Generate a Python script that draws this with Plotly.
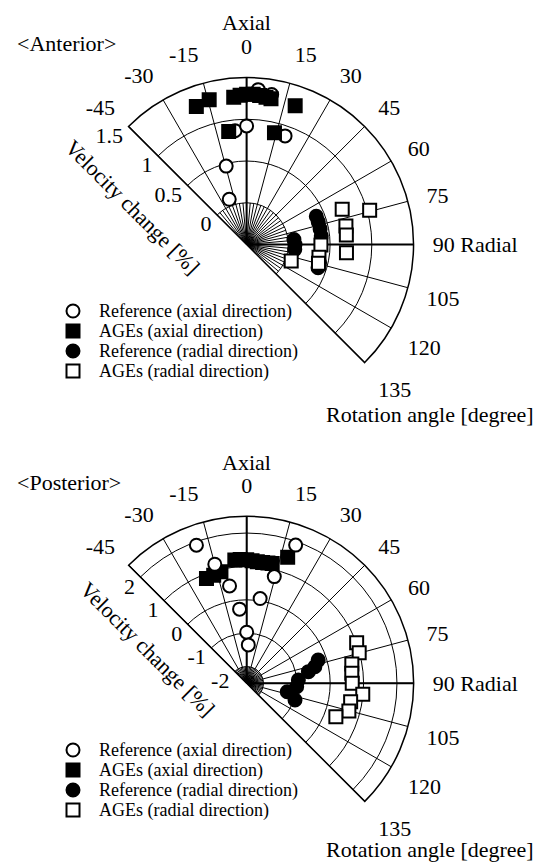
import plotly.graph_objects as go

W, H = 552, 863
FONT = "Liberation Serif"

# ---------------- data (angle in degrees, velocity change in %) ----------------
ant_ref_ax_theta = [-21, -14.6, -5.8, 0, 4.3, 9.5, 19.5]
ant_ref_ax_r = [0.08, 0.47, 0.87, 0.92, 1.36, 1.32, 0.88]

ant_age_ax_theta = [-20, -14.5, -9, -5, -2.5, 0, 2.5, 5, 7.5, 9.5, 14, 19.3]
ant_age_ax_r = [1.26, 1.29, 0.87, 1.27, 1.29, 1.3, 1.3, 1.29, 1.28, 1.27, 0.88, 1.26]

ant_ref_rad_theta = [68, 72.5, 78, 83.5, 84, 90, 96, 104, 108]
ant_ref_rad_r = [0.4, 0.4, 0.4, 0.4, 0.07, 0.08, 0.08, 0.4, 0.4]

ant_age_rad_theta = [69.8, 74.4, 79.4, 84.6, 90.4, 94.7, 100, 104.7, 110.4]
ant_age_rad_r = [0.72, 1.03, 0.71, 0.70, 0.39, 0.70, 0.38, 0.39, 0.07]

post_ref_ax_theta = [-20, -15, -10, -5.5, 0, 2.4, 9, 14.5, 19.5]
post_ref_ax_r = [1.9, 1.19, 0.46, -0.27, -0.97, -1.35, 0.07, 0.8, 1.89]

post_age_ax_theta = [-21, -17, -13, -5.5, -3, 0, 2.5, 5, 7.5, 10, 12, 18]
post_age_ax_r = [0.86, 0.88, 0.93, 1.21, 1.21, 1.2, 1.17, 1.15, 1.15, 1.16, 1.17, 1.47]

post_ref_rad_theta = [72, 76.3, 79.3, 86.3, 93.9, 101.7, 109]
post_ref_rad_r = [-0.25, -0.4, -0.62, -0.95, -1.0, -1.26, -0.97]

post_age_rad_theta = [69.7, 74.8, 79.6, 84.6, 90, 95.4, 100, 105.2, 110.5]
post_age_rad_r = [1.01, 0.99, 0.70, 0.66, 0.66, 0.99, 0.66, 0.67, 0.35]

angle_ticks = [-45, -30, -15, 0, 15, 30, 45, 60, 75, 90, 105, 120, 135]
angle_text = ["-45", "-30", "-15", "0", "15", "30", "45", "60", "75", "90 Radial", "105", "120", "135"]

ant_range = [-0.5, 1.5]
ant_ticks = [0, 0.5, 1, 1.5]
post_range = [-2.5, 2.5]
post_ticks = [-2, -1, 0, 1, 2]

series_names = ["Reference (axial direction)", "AGEs (axial direction)",
                "Reference (radial direction)", "AGEs (radial direction)"]

STYLES = [
    dict(symbol="circle", color="white"),
    dict(symbol="square", color="black"),
    dict(symbol="circle", color="black"),
    dict(symbol="square", color="white"),
]
MSIZE = 13
RADIAL_LABEL_ANGLE = -45  # radial tick labels sit along the -45 degree edge

# ---------------- figure ----------------
fig = go.Figure()


def add_panel(polar, data, rng, ticks, order):
    # decorative fine spokes inside the first ring
    fine = [a for a in range(-40, 135, 5) if a % 15 != 0]
    for a in fine:
        fig.add_trace(go.Scatterpolar(r=[rng[0], ticks[0]], theta=[a, a], mode="lines",
                                      line=dict(color="black", width=1), showlegend=False,
                                      hoverinfo="skip", subplot=polar))
    # bold main axes (Axial 0 and Radial 90)
    for a in [0, 90]:
        fig.add_trace(go.Scatterpolar(r=[rng[0], rng[1]], theta=[a, a], mode="lines",
                                      line=dict(color="black", width=2), showlegend=False,
                                      hoverinfo="skip", subplot=polar))
    for i in order:
        th, rr = data[i]
        st = STYLES[i]
        fig.add_trace(go.Scatterpolar(
            r=rr, theta=th, mode="markers", name=series_names[i], showlegend=False,
            marker=dict(symbol=st["symbol"], size=MSIZE, color=st["color"],
                        line=dict(color="black", width=2)),
            subplot=polar))
    # radial tick labels (horizontal, beside the -45 degree edge)
    fig.add_trace(go.Scatterpolar(
        r=ticks, theta=[RADIAL_LABEL_ANGLE] * len(ticks), mode="text",
        text=[("%g" % t) + "\u00a0" for t in ticks], textposition="bottom left",
        textfont=dict(family=FONT, size=22, color="black"),
        cliponaxis=False, showlegend=False, hoverinfo="skip", subplot=polar))


add_panel("polar",
          [(ant_ref_ax_theta, ant_ref_ax_r), (ant_age_ax_theta, ant_age_ax_r),
           (ant_ref_rad_theta, ant_ref_rad_r), (ant_age_rad_theta, ant_age_rad_r)],
          ant_range, ant_ticks, [0, 1, 2, 3])
add_panel("polar2",
          [(post_ref_ax_theta, post_ref_ax_r), (post_age_ax_theta, post_age_ax_r),
           (post_ref_rad_theta, post_ref_rad_r), (post_age_rad_theta, post_age_rad_r)],
          post_range, post_ticks, [1, 2, 3, 0])

# manual legends (pixel coordinates on a hidden full-page axis)
LEG_X, LEG_TX = 73, 97
for top in (311, 750):
    for i, name in enumerate(series_names):
        st = STYLES[i]
        y = top + 20 * i
        fig.add_trace(go.Scatter(x=[LEG_X], y=[y], mode="markers", showlegend=False,
                                 hoverinfo="skip",
                                 marker=dict(symbol=st["symbol"], size=MSIZE, color=st["color"],
                                             line=dict(color="black", width=2))))
        fig.add_annotation(text=name, x=LEG_TX, y=y, xref="x", yref="y", showarrow=False,
                           xanchor="left", yanchor="middle",
                           font=dict(family=FONT, size=18, color="black"))


def polar_layout(cx, cy, rad, rng, ticks):
    x0, x1 = cx - rad * 0.70711, cx + rad
    y0, y1 = cy - rad, cy + rad * 0.70711
    return dict(
        domain=dict(x=[x0 / W, x1 / W], y=[1 - y1 / H, 1 - y0 / H]),
        sector=[-45, 135],
        bgcolor="white",
        angularaxis=dict(rotation=90, direction="clockwise", tickmode="array",
                         tickvals=angle_ticks, ticktext=angle_text,
                         showgrid=True, gridcolor="black", gridwidth=1,
                         showline=True, linecolor="black", linewidth=1.5,
                         ticks="outside", ticklen=14, tickcolor="rgba(0,0,0,0)",
                         tickfont=dict(family=FONT, size=22, color="black")),
        radialaxis=dict(range=rng, tickmode="array", tickvals=ticks,
                        angle=135, side="counterclockwise",
                        showgrid=True, gridcolor="black", gridwidth=1,
                        showline=True, linecolor="black", linewidth=1,
                        ticks="", showticklabels=False),
    )


fig.update_layout(
    width=W, height=H, margin=dict(l=0, r=0, t=0, b=0),
    paper_bgcolor="white", plot_bgcolor="rgba(0,0,0,0)",
    font=dict(family=FONT, color="black"),
    showlegend=False,
    xaxis=dict(range=[0, W], domain=[0, 1], visible=False, fixedrange=True),
    yaxis=dict(range=[H, 0], domain=[0, 1], visible=False, fixedrange=True),
    polar=polar_layout(246.6, 244.5, 167, ant_range, ant_ticks),
    polar2=polar_layout(246.7, 683.3, 167, post_range, post_ticks),
)


def ann(text, x, y, size=22, angle=0, xanchor="center"):
    fig.add_annotation(text=text, x=x, y=y, xref="x", yref="y",
                       showarrow=False, textangle=angle, xanchor=xanchor, yanchor="middle",
                       font=dict(family=FONT, size=size, color="black"))


ann("&lt;Anterior&gt;", 15, 43, xanchor="left")
ann("&lt;Posterior&gt;", 15, 482, xanchor="left")
ann("Axial", 246, 22)
ann("Axial", 246, 462)
ann("Rotation angle [degree]", 430, 414)
ann("Rotation angle [degree]", 430, 849)
ann("Velocity change [%]", 133, 207, angle=45)
ann("Velocity change [%]", 148, 649, angle=45)

fig.write_html("out.html", config={"displayModeBar": False},
               post_script="document.body.style.margin='0';")
